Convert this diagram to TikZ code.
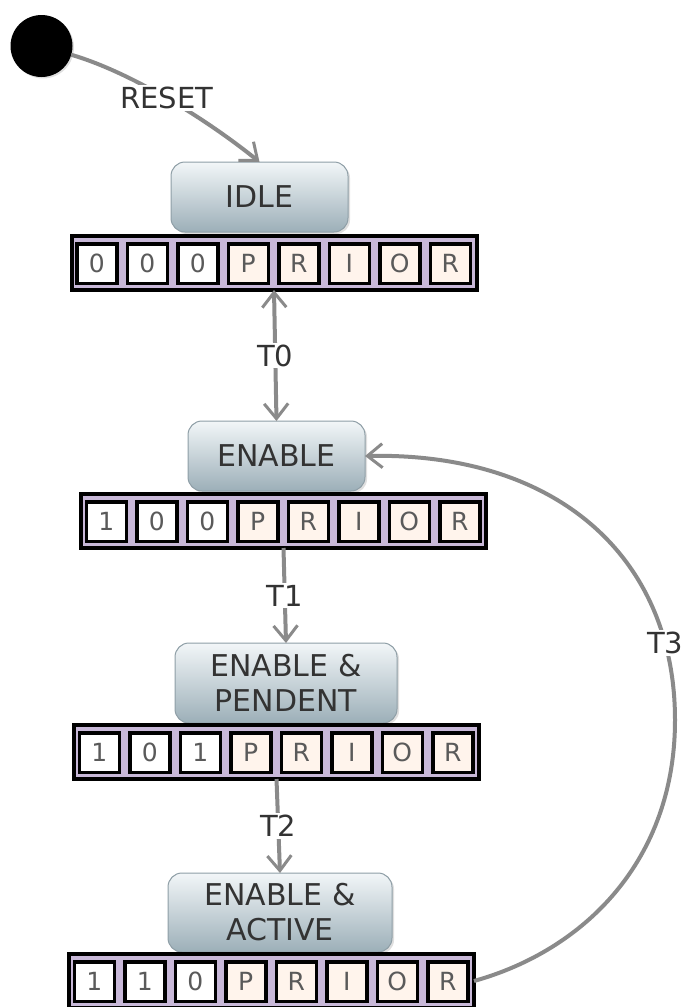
\documentclass[tikz,border=0pt]{standalone}
\usepackage{fontspec}
\setmainfont{DejaVu Sans}
\usetikzlibrary{arrows.meta,shadows}

\definecolor{edgegray}{HTML}{8A8A8A}
\definecolor{statetop}{HTML}{F2F6F8}
\definecolor{statebot}{HTML}{9CAFB8}
\definecolor{stateedge}{HTML}{8E9EA6}
\definecolor{statetext}{HTML}{333333}
\definecolor{regfill}{HTML}{C8B8D8}
\definecolor{priofill}{HTML}{FFF4EC}
\definecolor{celltext}{HTML}{5A5A5A}
\definecolor{lbltext}{HTML}{333333}

\tikzset{
  state/.style={rectangle, rounded corners=14pt, draw=stateedge, line width=1pt,
    top color=statetop, bottom color=statebot, text=statetext, align=center,
    font=\fontsize{30}{35}\selectfont, inner sep=0pt, outer sep=0pt,
    drop shadow={opacity=0.25, shadow xshift=2pt, shadow yshift=-2pt}},
  initial/.style={circle, fill=black, minimum size=62pt, inner sep=0pt, outer sep=0pt,
    drop shadow={opacity=0.25, shadow xshift=1.5pt, shadow yshift=-1.5pt}},
  regframe/.style={rectangle, draw=black, line width=4pt, fill=regfill,
    inner sep=0pt, outer sep=0pt, minimum width=405pt, minimum height=54pt},
  cell/.style={rectangle, draw=black, line width=3.5pt, inner sep=0pt, outer sep=0pt,
    minimum width=40pt, minimum height=39.5pt,
    font=\fontsize{25}{25}\selectfont, text=celltext},
  barb/.tip={Straight Barb[length=15pt, width=24pt, line width=3pt]},
  trans/.style={draw=edgegray, line width=4pt, -barb},
  twoway/.style={trans, barb-barb},
  lbl/.style={fill=white, inner sep=2pt, font=\fontsize{29}{29}\selectfont, text=lbltext},
}

% One status register: frame plus eight cells (three flag bits, then PRIOR)
% #1 name, #2 left edge, #3 top edge, #4-#6 flag bits
\newcommand\regrow[6]{%
  \node[regframe, anchor=north west] (#1) at ({#2+2},{#3+2}) {};
  \foreach \i/\t/\c in {0/#4/white,1/#5/white,2/#6/white,3/P/priofill,
                        4/R/priofill,5/I/priofill,6/O/priofill,7/R/priofill}
    \node[cell, fill=\c, anchor=north west] (#1-\i)
      at ({#2+5.5+1.75+50.5*\i},{#3+8+1.75}) {\t};
}

\begin{document}
\begin{tikzpicture}[x=1pt, y=-1pt]
  \useasboundingbox (0,0) rectangle (685,1007);

  % initial pseudo-state
  \node[initial] (init) at (41.5,46) {};

  % states
  \node[state, minimum width=177pt, minimum height=70pt] (idle)    at (259.5,197) {IDLE};
  \node[state, minimum width=177pt, minimum height=70pt] (enable)  at (276.5,456) {ENABLE};
  \node[state, minimum width=222pt, minimum height=80pt] (pendent) at (286,683)   {ENABLE \&\\PENDENT};
  \node[state, minimum width=224pt, minimum height=79pt] (active)  at (280,912.5) {ENABLE \&\\ACTIVE};

  % registers under each state
  \regrow{idlereg}{69.5}{234}{0}{0}{0}
  \regrow{enablereg}{79}{492}{1}{0}{0}
  \regrow{pendentreg}{72}{723}{1}{0}{1}
  \regrow{activereg}{67}{952}{1}{1}{0}

  % transitions
  \draw[trans] (init) .. controls (130,72) and (205,118) .. node[lbl, pos=0.5] {RESET} (idle.north);
  \draw[twoway] (idlereg.south) -- node[lbl] {T0} (enable.north);
  \draw[trans] (enablereg.south) -- node[lbl] {T1} (pendent.north);
  \draw[trans] (pendentreg.south) -- node[lbl] {T2} (active.north);
  \draw[trans] (activereg.east) .. controls (585,950) and (675,860) .. (675,720)
     .. controls (675,560) and (560,452) .. node[lbl, pos=0.17] {T3} (enable.east);
\end{tikzpicture}
\end{document}
